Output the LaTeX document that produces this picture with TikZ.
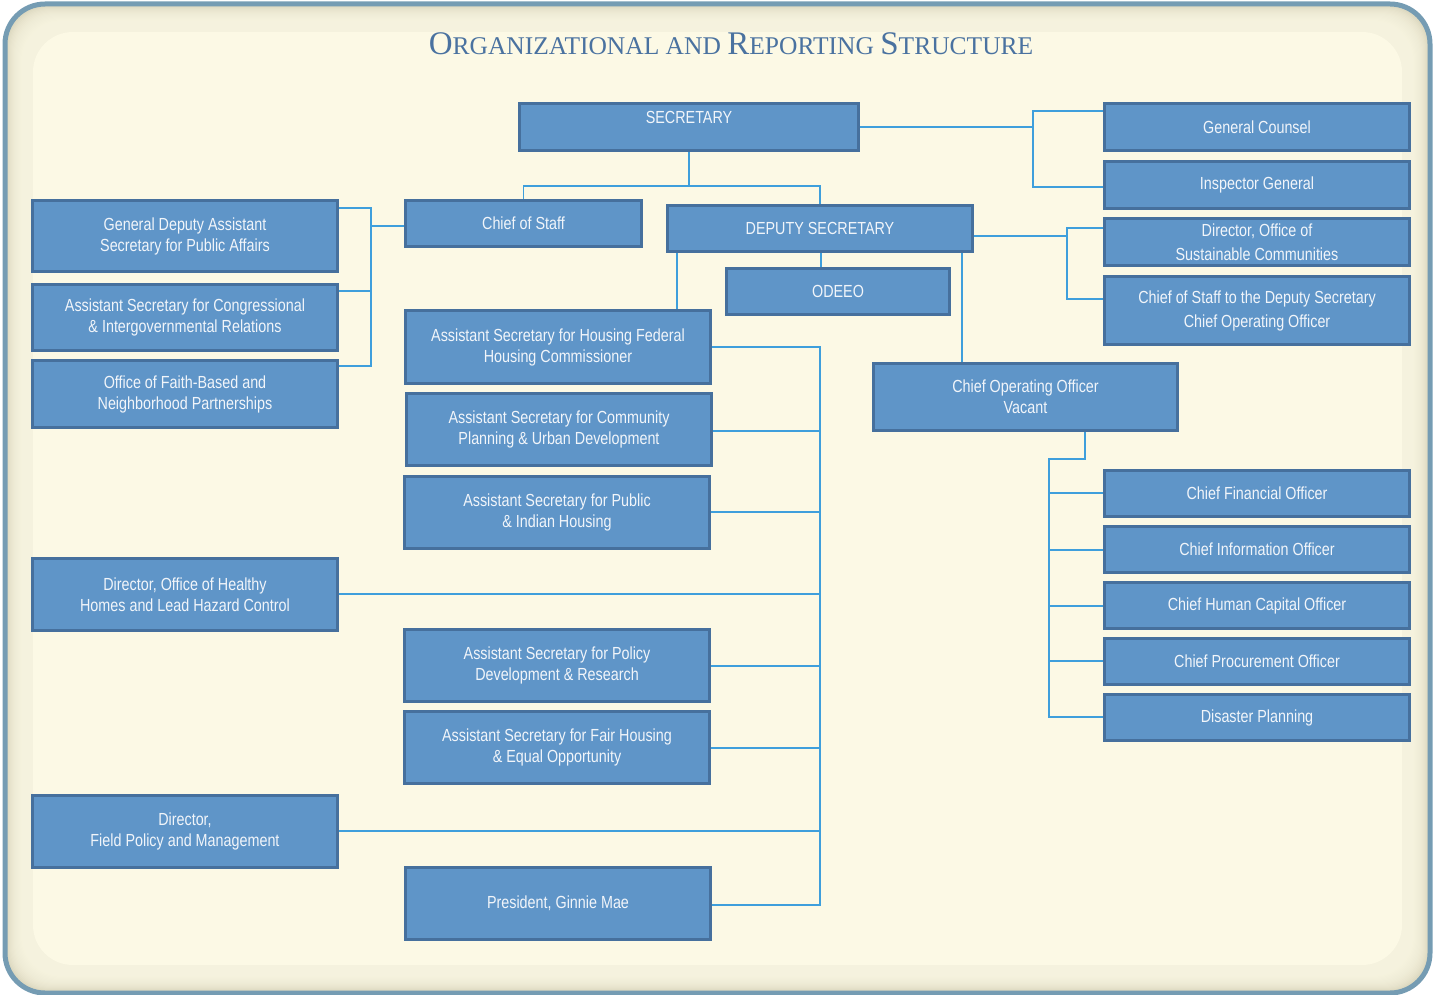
\documentclass[tikz,border=0pt]{standalone}
\usepackage{fontspec}
\newfontfamily\boxfont[FakeStretch=0.82]{Liberation Sans}
\newfontfamily\titlefont{Liberation Serif}
\definecolor{cream}{HTML}{FCF9E5}
\definecolor{tan}{HTML}{D4D0B6}
\definecolor{frame}{HTML}{759CB3}
\definecolor{boxfill}{HTML}{5F95C8}
\definecolor{boxline}{HTML}{46709D}
\definecolor{linkc}{HTML}{3E9FDC}
\definecolor{titlec}{HTML}{4A72A0}
\definecolor{boxtext}{HTML}{F1F5FA}
\newcommand{\Bx}[6]{\node[orgbox, minimum width={(#4-#2-3)*1pt}, minimum height={(#5-#3-3)*1pt}] (#1) at ({(#2+#4)/2},{(#3+#5)/2}) {#6};}
\newcommand{\BigC}[1]{{\fontsize{33}{33}\selectfont #1}}
\newcommand{\SmC}[1]{{\fontsize{25.5}{33}\selectfont #1}}
\begin{document}
\begin{tikzpicture}[x=1pt,y=-1pt,
  orgbox/.style={draw=boxline, line width=3pt, fill=boxfill, text=boxtext, inner sep=0pt, align=center,
    font=\boxfont\fontsize{17.5}{21}\selectfont},
  boxlabel/.style={text=boxtext, inner sep=0pt, font=\boxfont\fontsize{17.5}{21}\selectfont},
  link/.style={draw=linkc, line width=1.6pt},
  titlestyle/.style={text=titlec, inner sep=0pt, font=\titlefont}]
\useasboundingbox (0,0) rectangle (1434,995);
% background
\begin{scope}
\clip[rounded corners=40pt] (5,4) rectangle (1430,993);
\fill[tan] (0,0) rectangle (1434,995);
\foreach \i in {1,2,...,26}{
  \fill[cream, opacity=0.13, rounded corners=40pt] (5+\i,4+\i) rectangle (1430-\i,993-\i);
}
\fill[cream, rounded corners=40pt] (33,32) rectangle (1402,965);
\end{scope}
\draw[frame, line width=5pt, rounded corners=40pt] (5,4) rectangle (1430,993);
% title
\node[titlestyle] (title) at (731,44) {\BigC{O}\SmC{RGANIZATIONAL AND }\BigC{R}\SmC{EPORTING }\BigC{S}\SmC{TRUCTURE}};
% boxes
\Bx{sec}{518}{102}{860}{152}{}
\node[boxlabel] (sectext) at (689,117) {SECRETARY};
\Bx{cos}{404}{199}{643}{248}{Chief of Staff}
\Bx{dep}{666}{204}{974}{253}{DEPUTY SECRETARY}
\Bx{odeeo}{725}{267}{951}{316}{ODEEO}
\Bx{gdas}{31}{199}{339}{273}{General Deputy Assistant\\Secretary for Public Affairs}
\Bx{ascong}{31}{283}{339}{352}{Assistant Secretary for Congressional\\\& Intergovernmental Relations}
\Bx{faith}{31}{359}{339}{429}{Office of Faith-Based and\\Neighborhood Partnerships}
\Bx{gc}{1103}{102}{1411}{152}{General Counsel}
\Bx{ig}{1103}{160}{1411}{210}{Inspector General}
\Bx{dosc}{1103}{217}{1411}{267}{Director, Office of\\[3pt]Sustainable Communities}
\Bx{cosds}{1103}{275}{1411}{346}{Chief of Staff to the Deputy Secretary\\[3pt]Chief Operating Officer}
\Bx{ashou}{404}{309}{712}{385}{Assistant Secretary for Housing Federal\\Housing Commissioner}
\Bx{ascpd}{405}{392}{713}{467}{Assistant Secretary for Community\\Planning \& Urban Development}
\Bx{aspih}{403}{475}{711}{550}{Assistant Secretary for Public\\\& Indian Housing}
\Bx{coo}{872}{362}{1179}{432}{Chief Operating Officer\\Vacant}
\Bx{cfo}{1103}{469}{1411}{518}{Chief Financial Officer}
\Bx{cio}{1103}{525}{1411}{574}{Chief Information Officer}
\Bx{chco}{1103}{581}{1411}{630}{Chief Human Capital Officer}
\Bx{cpo}{1103}{637}{1411}{686}{Chief Procurement Officer}
\Bx{dp}{1103}{693}{1411}{742}{Disaster Planning}
\Bx{hh}{31}{557}{339}{632}{Director, Office of Healthy\\Homes and Lead Hazard Control}
\Bx{aspdr}{403}{628}{711}{703}{Assistant Secretary for Policy\\Development \& Research}
\Bx{asfh}{403}{710}{711}{785}{Assistant Secretary for Fair Housing\\\& Equal Opportunity}
\Bx{fpm}{31}{794}{339}{869}{Director,\\Field Policy and Management}
\Bx{gm}{404}{866}{712}{941}{President, Ginnie Mae}
% junction coordinates
\coordinate (j1) at (689,186);
\coordinate (g1) at (1033,111);
\coordinate (g2) at (1033,187);
\coordinate (d1) at (1067,228);
\coordinate (d2) at (1067,299);
\coordinate (l0) at (371,226);
\coordinate (l1) at (371,208);
\coordinate (l2) at (371,291);
\coordinate (l3) at (371,366);
\coordinate (dl) at (677,253);
\coordinate (dm) at (821,253);
\coordinate (dr) at (962,253);
\coordinate (b1) at (820,347);
\coordinate (b2) at (820,431);
\coordinate (b3) at (820,512);
\coordinate (b4) at (820,594);
\coordinate (b5) at (820,666);
\coordinate (b6) at (820,748);
\coordinate (b7) at (820,831);
\coordinate (b8) at (820,905);
\coordinate (c0) at (1085,459);
\coordinate (c1) at (1049,459);
\coordinate (c2) at (1049,493);
\coordinate (c3) at (1049,550);
\coordinate (c4) at (1049,606);
\coordinate (c5) at (1049,661);
\coordinate (c6) at (1049,717);
% connectors
\draw[link] (sec.south) -- (j1);
\draw[link] (cos.north) |- (j1) -| (dep.north);
\draw[link] (sec.east) -- (sec.east -| g1);
\draw[link] (g1 -| gc.west) -- (g1) -- (g2) -- (g2 -| ig.west);
\draw[link] (dep.east |- 0,236) -- (d1 |- 0,236);
\draw[link] (d1 -| dosc.west) -- (d1) -- (d2) -- (d2 -| cosds.west);
\draw[link] (cos.west |- l0) -- (l0);
\draw[link] (l1 -| gdas.east) -- (l1) -- (l3) -- (l3 -| faith.east);
\draw[link] (l2 -| ascong.east) -- (l2);
\draw[link] (dl) -- (dl |- ashou.north);
\draw[link] (dm) -- (dm |- odeeo.north);
\draw[link] (dr) -- (dr |- coo.north);
\draw[link] (b1 -| ashou.east) -- (b1) -- (b8) -- (b8 -| gm.east);
\draw[link] (b2 -| ascpd.east) -- (b2);
\draw[link] (b3 -| aspih.east) -- (b3);
\draw[link] (b4 -| hh.east) -- (b4);
\draw[link] (b5 -| aspdr.east) -- (b5);
\draw[link] (b6 -| asfh.east) -- (b6);
\draw[link] (b7 -| fpm.east) -- (b7);
\draw[link] (coo.south -| c0) -- (c0) -- (c1) -- (c6) -- (c6 -| dp.west);
\draw[link] (c2) -- (c2 -| cfo.west);
\draw[link] (c3) -- (c3 -| cio.west);
\draw[link] (c4) -- (c4 -| chco.west);
\draw[link] (c5) -- (c5 -| cpo.west);
\end{tikzpicture}
\end{document}
